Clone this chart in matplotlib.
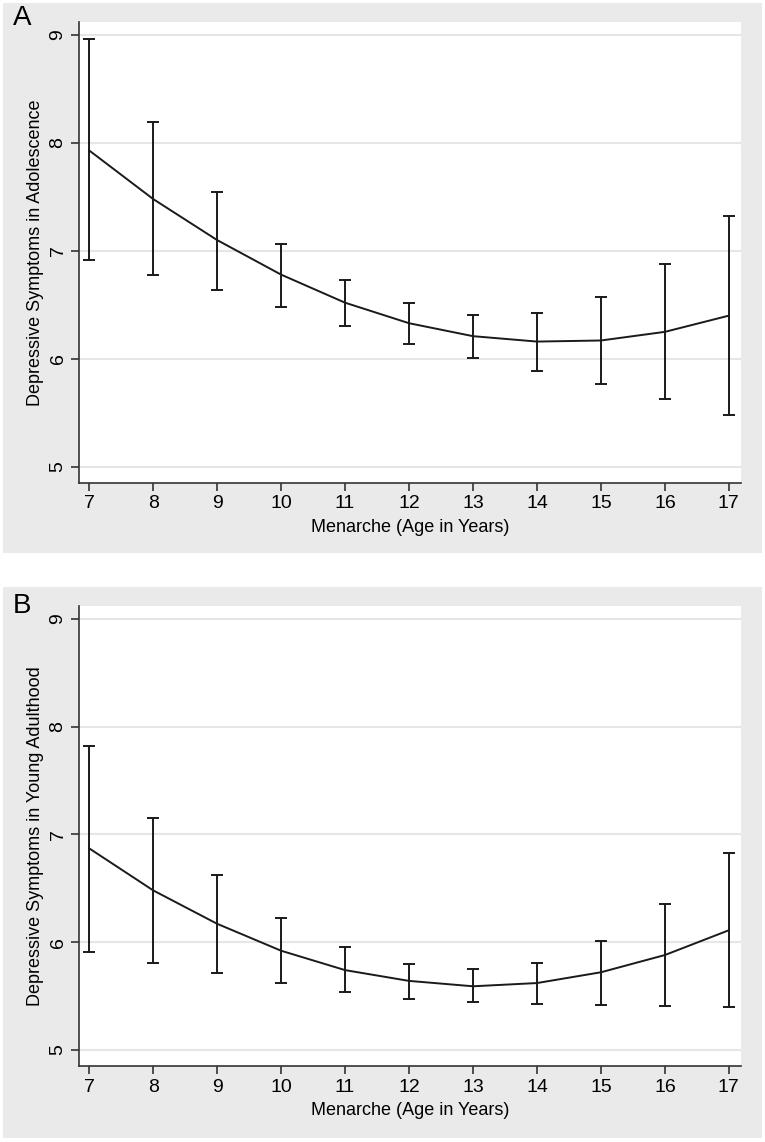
import matplotlib
matplotlib.use("Agg")
import matplotlib.pyplot as plt
from matplotlib.patches import Rectangle

plt.rcParams['font.family'] = ['Liberation Sans', 'DejaVu Sans']

ages = [7, 8, 9, 10, 11, 12, 13, 14, 15, 16, 17]

# panel A: adolescence
mean_a = [7.93, 7.48, 7.10, 6.78, 6.52, 6.33, 6.21, 6.16, 6.17, 6.25, 6.40]
hi_a = [8.96, 8.19, 7.55, 7.06, 6.73, 6.52, 6.41, 6.42, 6.57, 6.88, 7.32]
lo_a = [6.92, 6.78, 6.64, 6.48, 6.30, 6.14, 6.01, 5.89, 5.77, 5.63, 5.48]

# panel B: young adulthood
mean_b = [6.87, 6.48, 6.17, 5.92, 5.74, 5.64, 5.59, 5.62, 5.72, 5.88, 6.11]
hi_b = [7.82, 7.15, 6.62, 6.22, 5.95, 5.80, 5.75, 5.81, 6.01, 6.35, 6.83]
lo_b = [5.91, 5.81, 5.71, 5.62, 5.54, 5.47, 5.44, 5.43, 5.42, 5.41, 5.40]

yticks = [5, 6, 7, 8, 9]

W, H = 765, 1142
fig = plt.figure(figsize=(W / 100, H / 100), dpi=100)
fig.patch.set_facecolor('white')

gray = '#EAEAEA'
ink = '#1a1a1a'

# gray panel backgrounds
for top, bot in [(3, 553), (587, 1138)]:
    fig.add_artist(Rectangle((3 / W, 1 - bot / H), 759 / W, (bot - top) / H,
                             transform=fig.transFigure, facecolor=gray,
                             edgecolor='none', zorder=0))


def panel(rect, mean, hi, lo, ylabel, letter, top_px):
    ax = fig.add_axes(rect)
    ax.set_facecolor('white')
    lower = [m - l for m, l in zip(mean, lo)]
    upper = [h - m for m, h in zip(mean, hi)]
    ax.errorbar(ages, mean, yerr=[lower, upper], fmt='none', ecolor=ink,
                elinewidth=1.4, capsize=4.5, capthick=1.4, zorder=3)
    ax.plot(ages, mean, color=ink, lw=1.4, zorder=4)
    ax.set_xlim(6.84, 17.19)
    ax.set_ylim(4.85, 9.12)
    ax.set_xticks(ages)
    ax.set_yticks(yticks)
    ax.tick_params(axis='x', labelsize=14, length=6, width=1.2, color='#333333', pad=3)
    ax.tick_params(axis='y', labelsize=14, length=6, width=1.2, color='#333333', pad=3)
    for lab in ax.get_yticklabels():
        lab.set_rotation(90)
        lab.set_va('center')
    ax.yaxis.grid(True, color='#E6E6E6', lw=1.5)
    ax.set_axisbelow(True)
    for s in ['top', 'right']:
        ax.spines[s].set_visible(False)
    for s in ['left', 'bottom']:
        ax.spines[s].set_color('#333333')
        ax.spines[s].set_linewidth(1.2)
    ax.set_xlabel('Menarche (Age in Years)', fontsize=13, labelpad=5)
    ax.set_ylabel(ylabel, fontsize=13, labelpad=4)
    fig.text(13 / W, 1 - top_px / H, letter, fontsize=20, va='center', ha='left')
    return ax


panel([79 / W, 1 - 483 / H, 662 / W, 461 / H], mean_a, hi_a, lo_a,
      'Depressive Symptoms in Adolescence', 'A', 18)
panel([79 / W, 1 - 1066 / H, 662 / W, 460 / H], mean_b, hi_b, lo_b,
      'Depressive Symptoms in Young Adulthood', 'B', 606)

fig.savefig('out.png', dpi=100)
